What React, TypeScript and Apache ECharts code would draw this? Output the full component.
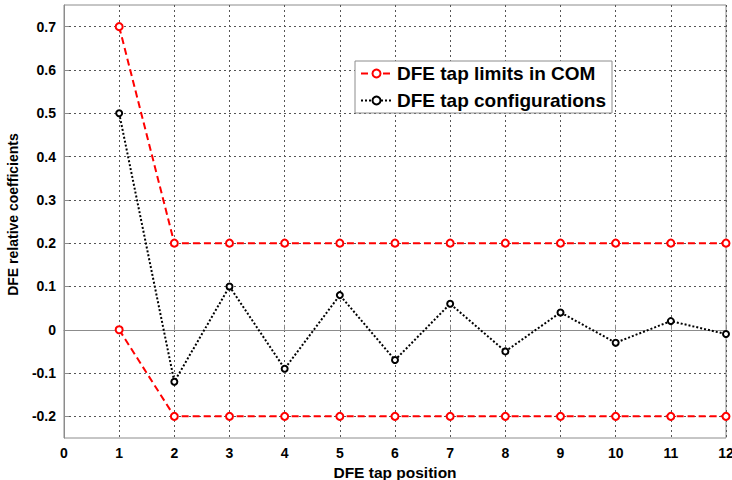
import React, { useEffect, useRef } from "react";
import * as echarts from "echarts";

const taps = [1, 2, 3, 4, 5, 6, 7, 8, 9, 10, 11, 12];
const upperLimit = [0.7, 0.2, 0.2, 0.2, 0.2, 0.2, 0.2, 0.2, 0.2, 0.2, 0.2, 0.2];
const lowerLimit = [0, -0.2, -0.2, -0.2, -0.2, -0.2, -0.2, -0.2, -0.2, -0.2, -0.2, -0.2];
const tapConfig = [0.5, -0.12, 0.1, -0.09, 0.08, -0.07, 0.06, -0.05, 0.04, -0.03, 0.02, -0.01];
const yTicks = [-0.2, -0.1, 0, 0.1, 0.2, 0.3, 0.4, 0.5, 0.6, 0.7];

const limitName = "DFE tap limits in COM";
const configName = "DFE tap configurations";

export default function App() {
  const ref = useRef<HTMLDivElement>(null);
  useEffect(() => {
    if (!ref.current) return;
    const chart = echarts.init(ref.current, null, { renderer: "svg" });
    const font = "'Liberation Sans', Arial, sans-serif";
    const pair = (ys: number[]) => taps.map((x, i) => [x, ys[i]]);
    const limitStyle = {
      type: "line" as const,
      name: limitName,
      symbol: "emptyCircle",
      symbolSize: 7,
      lineStyle: { color: "#ff0000", width: 2, type: [7, 4] as any },
      itemStyle: { color: "#ff0000", borderWidth: 1.5 },
    };
    chart.setOption({
      animation: false,
      backgroundColor: "#ffffff",
      grid: {
        left: 64,
        right: 6,
        top: 5,
        bottom: 42,
        outerBoundsMode: "none",
        containLabel: false,
        show: true,
        borderColor: "#8c8c8c",
        borderWidth: 1,
        backgroundColor: "transparent",
      },
      legend: {
        left: 355,
        top: 61,
        orient: "vertical",
        itemWidth: 31,
        itemHeight: 10,
        itemGap: 8,
        padding: [3, 6, 3, 5],
        backgroundColor: "#ffffff",
        borderColor: "#8c8c8c",
        borderWidth: 1,
        borderRadius: 0,
        textStyle: { fontFamily: font, fontWeight: "bold", fontSize: 19, color: "#000" },
        data: [limitName, configName],
      },
      xAxis: {
        type: "value",
        min: 0,
        max: 12,
        interval: 1,
        name: "DFE tap position",
        nameLocation: "middle",
        nameGap: 21,
        nameTextStyle: { fontFamily: font, fontWeight: "bold", fontSize: 15.5, color: "#000" },
        axisLine: { show: true, lineStyle: { color: "#8c8c8c" } },
        axisTick: { show: true, inside: true, length: 5, lineStyle: { color: "#8c8c8c" } },
        axisLabel: { fontFamily: font, fontWeight: "bold", fontSize: 14, color: "#000", margin: 8 },
        splitLine: { show: true, lineStyle: { color: "#555", type: [2, 3], width: 1 } },
      },
      yAxis: {
        type: "value",
        min: -0.25,
        max: 0.75,
        name: "DFE relative coefficients",
        nameLocation: "middle",
        nameGap: 44,
        nameTextStyle: { fontFamily: font, fontWeight: "bold", fontSize: 14, color: "#000", padding: [0, 0, 0, 14] },
        axisLine: { show: true, lineStyle: { color: "#8c8c8c" } },
        axisTick: { show: true, inside: true, length: 5, customValues: yTicks, lineStyle: { color: "#8c8c8c" } },
        axisLabel: {
          fontFamily: font,
          fontWeight: "bold",
          fontSize: 14,
          color: "#000",
          margin: 8,
          customValues: yTicks,
          formatter: (v: number) => String(Math.round(v * 10) / 10),
        },
        splitLine: { show: true, lineStyle: { color: "#555", type: [2, 3], width: 1 } },
      },
      series: [
        { ...limitStyle, data: pair(upperLimit), z: 3 },
        { ...limitStyle, data: pair(lowerLimit), z: 3 },
        {
          type: "line",
          name: configName,
          symbol: "emptyCircle",
          symbolSize: 6,
          lineStyle: { color: "#000", width: 2, type: [2, 2] },
          itemStyle: { color: "#000", borderWidth: 1.5 },
          data: pair(tapConfig),
          z: 4,
        },
      ],
    });
    return () => chart.dispose();
  }, []);
  return <div ref={ref} style={{ width: 732, height: 480, position: "absolute", left: 0, top: 0 }} />;
}
